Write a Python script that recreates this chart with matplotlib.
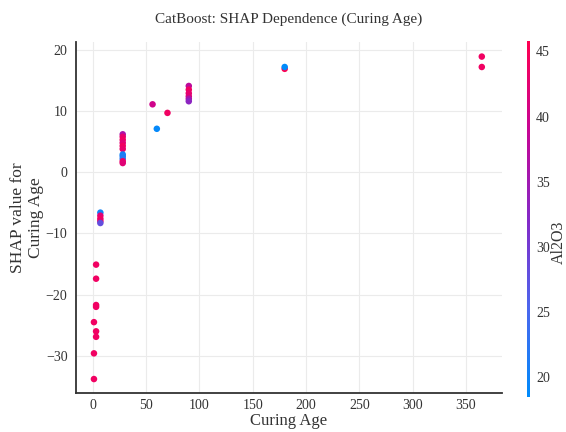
import numpy as np
import matplotlib
matplotlib.use("Agg")
import matplotlib.pyplot as plt
from matplotlib.colors import LinearSegmentedColormap

plt.rcParams["font.family"] = ["Liberation Serif", "DejaVu Serif"]

# --- data (curing age, SHAP value, Al2O3 colour) ---
curing_age = [1, 1, 1,
              3, 3, 3, 3, 3, 3,
              7, 7, 7, 7, 7,
              28, 28, 28, 28, 28, 28, 28, 28, 28, 28, 28,
              56, 60, 70,
              90, 90, 90, 90, 90, 90,
              180, 180,
              365, 365]
shap_value = [-24.5, -29.6, -33.8,
              -15.1, -17.4, -21.7, -22.0, -26.0, -26.9,
              -6.6, -7.1, -7.6, -8.0, -8.3,
              6.2, 5.8, 5.3, 4.8, 4.3, 3.8, 2.9, 2.6, 2.2, 1.8, 1.5,
              11.1, 7.1, 9.7,
              14.1, 13.5, 12.9, 12.4, 12.0, 11.6,
              16.9, 17.2,
              18.9, 17.2]
al2o3 = [44, 44, 44,
         44, 44, 44, 44, 44, 44,
         20, 42, 44, 43, 28,
         36, 43, 44, 42, 44, 43, 20, 21, 22, 44, 42,
         40, 19, 44,
         38, 44, 43, 42, 36, 33,
         45.8, 18.5,
         44, 44]

# SHAP-like red/blue colour map
red_blue = LinearSegmentedColormap.from_list(
    "red_blue",
    [(0.00, (0.00, 0.545, 0.984)),
     (0.25, (0.30, 0.40, 0.93)),
     (0.50, (0.52, 0.16, 0.78)),
     (0.75, (0.78, 0.02, 0.58)),
     (1.00, (1.00, 0.00, 0.318))])

fig = plt.figure(figsize=(5.66, 4.32), dpi=100)
ax = fig.add_axes([0.134, 0.090, 0.753, 0.813])
cax = fig.add_axes([0.931, 0.082, 0.006, 0.823])

sc = ax.scatter(curing_age, shap_value, c=al2o3, cmap=red_blue,
                vmin=min(al2o3), vmax=max(al2o3), s=22, linewidths=0,
                zorder=3)

ax.set_xlim(-16, 384)
ax.set_ylim(-36.1, 21.3)
ax.set_xticks(np.arange(0, 351, 50))
ax.set_yticks(np.arange(-30, 21, 10))
ax.grid(True, color="#ebebeb", linewidth=0.8, zorder=0)
ax.set_axisbelow(True)

for side in ["top", "right"]:
    ax.spines[side].set_visible(False)
for side in ["left", "bottom"]:
    ax.spines[side].set_color("#333333")
    ax.spines[side].set_linewidth(1.3)
ax.tick_params(axis="x", length=0, labelsize=10, colors="#333333", pad=4)
ax.tick_params(axis="y", length=0, labelsize=10, colors="#333333", pad=6)

ax.set_xlabel("Curing Age", fontsize=12, color="#333333", labelpad=1)
ax.set_ylabel("SHAP value for\nCuring Age", fontsize=12.5, color="#333333",
              labelpad=1)
ax.set_title("CatBoost: SHAP Dependence (Curing Age)", fontsize=11,
             color="#333333", pad=14)

cb = fig.colorbar(sc, cax=cax)
cb.outline.set_visible(False)
cb.set_ticks([20, 25, 30, 35, 40, 45])
cb.ax.tick_params(length=0, labelsize=10, colors="#333333", pad=4)
cb.set_label("Al2O3", fontsize=11.5, color="#333333")
cb.ax.yaxis.set_label_coords(7.1, 0.435)

fig.savefig("out.png", dpi=100)
plt.close(fig)
